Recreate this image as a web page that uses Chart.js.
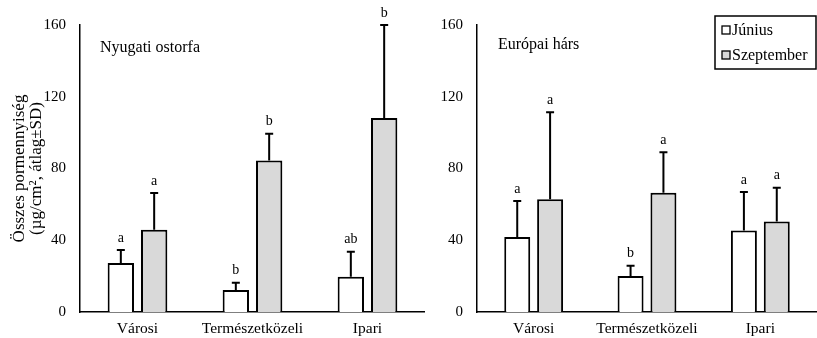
<!DOCTYPE html>
<html>
<head>
<meta charset="utf-8">
<script src="https://cdn.jsdelivr.net/npm/chart.js@4.4.0/dist/chart.umd.min.js"></script>
<style>
  html, body { margin:0; padding:0; background:#fff; }
  #wrap { position:relative; width:817px; height:338px; }
  #left { position:absolute; left:0; top:0; }
  #right { position:absolute; left:425px; top:0; }
</style>
</head>
<body>
<div id="wrap">
  <canvas id="left" width="425" height="338" style="width:425px;height:338px"></canvas>
  <canvas id="right" width="392" height="338" style="width:392px;height:338px"></canvas>
</div>
<script>
// data
const categories = ['Városi', 'Természetközeli', 'Ipari'];
const seriesNames = ['Június', 'Szeptember'];

const ostorfaJunius = [27.3, 12.3, 19.7];
const ostorfaSzept = [45.9, 84.5, 108.1];
const ostorfaJuniusSD = [7.3, 4.0, 13.9];
const ostorfaSzeptSD = [20.4, 14.9, 51.9];
const ostorfaJuniusLetters = ['a', 'b', 'ab'];
const ostorfaSzeptLetters = ['a', 'b', 'b'];

const harsJunius = [41.8, 20.1, 45.5];
const harsSzept = [62.8, 66.5, 50.5];
const harsJuniusSD = [20.1, 5.7, 21.4];
const harsSzeptSD = [48.5, 22.5, 18.8];
const harsJuniusLetters = ['a', 'b', 'a'];
const harsSzeptLetters = ['a', 'a', 'a'];

const yTicks = [0, 40, 80, 120, 160];

const SERIF = '"Liberation Serif", "Times New Roman", serif';

// error bars + significance letters
const errorBarPlugin = {
    id: 'errorBars',
    afterDatasetsDraw(chart) {
        const ctx = chart.ctx;
        const y = chart.scales.y;
        ctx.save();
        chart.data.datasets.forEach((ds, di) => {
            const meta = chart.getDatasetMeta(di);
            meta.data.forEach((bar, i) => {
                const top = y.getPixelForValue(ds.data[i] + ds.sd[i]);
                const base = bar.y;
                ctx.strokeStyle = '#000';
                ctx.lineWidth = 2;
                ctx.beginPath();
                ctx.moveTo(bar.x, base);
                ctx.lineTo(bar.x, top);
                ctx.moveTo(bar.x - 4, top);
                ctx.lineTo(bar.x + 4, top);
                ctx.stroke();
                ctx.fillStyle = '#000';
                ctx.font = '14px ' + SERIF;
                ctx.textAlign = 'center';
                ctx.textBaseline = 'middle';
                ctx.fillText(ds.letters[i], bar.x, top - 12);
            });
        });
        ctx.restore();
    }
};

// panel title inside the plot
const panelTitlePlugin = {
    id: 'panelTitle',
    afterDraw(chart, args, opts) {
        const ctx = chart.ctx;
        ctx.save();
        ctx.fillStyle = '#000';
        ctx.font = '16px ' + SERIF;
        ctx.textAlign = 'left';
        ctx.textBaseline = 'middle';
        ctx.fillText(opts.text, chart.chartArea.left + opts.dx, opts.y);
        ctx.restore();
    }
};

// boxed legend
const boxLegendPlugin = {
    id: 'boxLegend',
    afterDraw(chart, args, opts) {
        if (!opts.show) return;
        const ctx = chart.ctx;
        const x0 = chart.chartArea.right - 102, y0 = 16, w = 101, h = 53;
        ctx.save();
        ctx.strokeStyle = '#000';
        ctx.lineWidth = 1.5;
        ctx.strokeRect(x0, y0, w, h);
        ctx.font = '16px ' + SERIF;
        ctx.textAlign = 'left';
        ctx.textBaseline = 'middle';
        chart.data.datasets.forEach((ds, i) => {
            const cy = y0 + 14 + i * 25;
            ctx.fillStyle = ds.backgroundColor;
            ctx.fillRect(x0 + 7, cy - 4, 8, 8);
            ctx.lineWidth = 1.3;
            ctx.strokeRect(x0 + 7, cy - 4, 8, 8);
            ctx.fillStyle = '#000';
            ctx.fillText(ds.label, x0 + 17, cy + 1);
        });
        ctx.restore();
    }
};

function makeChart(id, jun, sep, junSD, sepSD, junL, sepL, yWidth, title, titleDx, titleY, withLegend, showYTitle) {
    return new Chart(document.getElementById(id), {
        type: 'bar',
        data: {
            labels: categories,
            datasets: [
                { label: seriesNames[0], data: jun, sd: junSD, letters: junL,
                  backgroundColor: '#ffffff', borderColor: '#000', borderWidth: 2 },
                { label: seriesNames[1], data: sep, sd: sepSD, letters: sepL,
                  backgroundColor: '#d9d9d9', borderColor: '#000', borderWidth: 2 }
            ]
        },
        options: {
            responsive: false,
            animation: false,
            layout: { padding: { top: 25, right: 0, left: 0, bottom: 0 } },
            datasets: { bar: { categoryPercentage: 0.58, barPercentage: 0.79 } },
            plugins: {
                legend: { display: false },
                tooltip: { enabled: false },
                panelTitle: { text: title, dx: titleDx, y: titleY },
                boxLegend: { show: withLegend }
            },
            scales: {
                x: {
                    grid: { display: false, drawTicks: false },
                    border: { color: '#000', width: 1.5 },
                    ticks: { color: '#000', font: { family: SERIF, size: 15.5 }, padding: 8 },
                    afterFit(s) { s.height = 26; }
                },
                y: {
                    min: 0, max: 160,
                    afterBuildTicks(s) { s.ticks = yTicks.map(v => ({ value: v })); },
                    grid: { display: false, drawTicks: false },
                    border: { color: '#000', width: 1.5 },
                    ticks: { color: '#000', font: { family: SERIF, size: 15 }, padding: 14 },
                    title: {
                        display: showYTitle,
                        text: ['Összes pormennyiség', '(µg/cm², átlag±SD)'],
                        color: '#000',
                        font: { family: SERIF, size: 17, lineHeight: 1.0 },
                        padding: { top: 11, bottom: 0 }
                    },
                    afterFit(s) { s.width = yWidth; }
                }
            }
        },
        plugins: [errorBarPlugin, panelTitlePlugin, boxLegendPlugin]
    });
}

makeChart('left', ostorfaJunius, ostorfaSzept, ostorfaJuniusSD, ostorfaSzeptSD,
    ostorfaJuniusLetters, ostorfaSzeptLetters, 80, 'Nyugati ostorfa', 20, 48, false, true);
makeChart('right', harsJunius, harsSzept, harsJuniusSD, harsSzeptSD,
    harsJuniusLetters, harsSzeptLetters, 52, 'Európai hárs', 21, 45, true, false);
</script>
</body>
</html>
